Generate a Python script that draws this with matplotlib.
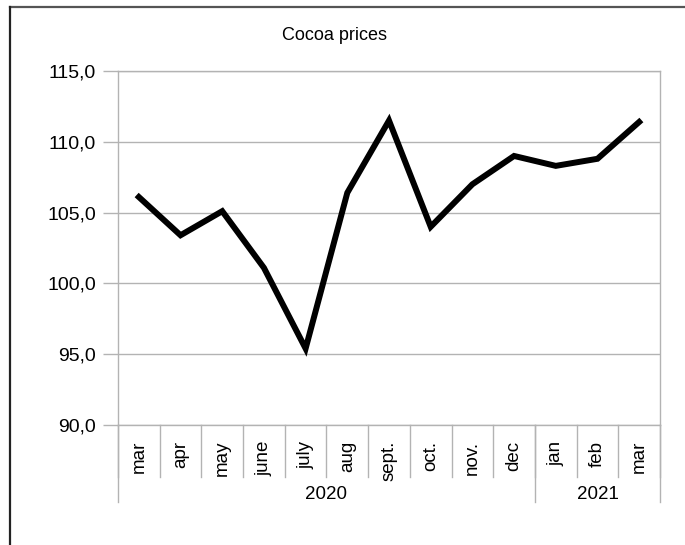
import numpy as np
import matplotlib
matplotlib.use("Agg")
import matplotlib.pyplot as plt
from matplotlib.lines import Line2D
from matplotlib.transforms import blended_transform_factory
from matplotlib.ticker import FuncFormatter

plt.rcParams['font.family'] = ['Liberation Sans', 'DejaVu Sans']

# data
months = ['mar', 'apr', 'may', 'june', 'july', 'aug', 'sept.', 'oct.',
          'nov.', 'dec', 'jan', 'feb', 'mar']
prices = [106.1, 103.4, 105.1, 101.1, 95.4, 106.4, 111.5, 104.0,
          107.0, 109.0, 108.3, 108.8, 111.4]
years = ['2020', '2021']
year_counts = [10, 3]

W, H = 685, 545
fig = plt.figure(figsize=(W / 100, H / 100), dpi=100)
ax = fig.add_axes([118 / W, 1 - 425 / H, (660 - 118) / W, (425 - 71) / H])

grey = '#b3b3b3'
x = np.arange(len(months))
ax.plot(x, prices, color='black', lw=4.3, solid_joinstyle='miter', zorder=3)

ax.set_xlim(-0.5, len(months) - 0.5)
ax.set_ylim(90, 115)
ax.set_yticks(np.arange(90, 116, 5))
ax.yaxis.set_major_formatter(FuncFormatter(lambda v, p: f'{v:.1f}'.replace('.', ',')))
ax.grid(axis='y', color=grey, lw=1)
ax.set_axisbelow(True)
ax.tick_params(axis='y', length=11, color=grey, width=1, pad=5, labelsize=14)
ax.set_xticks([])
for s in ax.spines.values():
    s.set_color(grey)
    s.set_linewidth(1)

# two-level category axis drawn by hand
tr = blended_transform_factory(ax.transData, fig.transFigure)
def fy(ypix):
    return 1 - ypix / H

for i in range(len(months) + 1):
    ax.add_line(Line2D([i - 0.5, i - 0.5], [fy(425), fy(477)], color=grey, lw=1,
                       transform=tr, clip_on=False))
for i, m in enumerate(months):
    ax.text(i, fy(441), m, transform=tr, rotation=90, ha='center', va='top', fontsize=13.5)

start = 0
edges = [0]
for y, n in zip(years, year_counts):
    ax.text(start + (n - 1) / 2, fy(486), y, transform=tr, ha='center', va='top', fontsize=13.5)
    start += n
    edges.append(start)
for e in edges:
    ax.add_line(Line2D([e - 0.5, e - 0.5], [fy(425), fy(502)], color=grey, lw=1,
                       transform=tr, clip_on=False))

fig.text(335 / W, fy(36), 'Cocoa prices', ha='center', va='center', fontsize=13)

# outer chart frame (only top and left visible)
fig.add_artist(Line2D([10 / W, 1.02], [fy(7), fy(7)], color='#555555', lw=1.6))
fig.add_artist(Line2D([10 / W, 10 / W], [fy(7), -0.02], color='#222222', lw=1.6))

fig.savefig('out.png', dpi=100)
